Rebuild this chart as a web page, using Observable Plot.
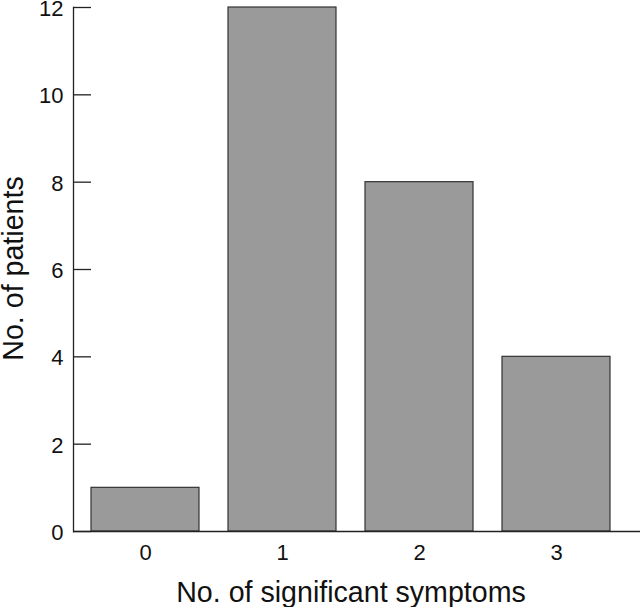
<!DOCTYPE html>
<html>
<head>
<meta charset="utf-8">
<script src="https://cdn.jsdelivr.net/npm/d3@7"></script>
<script src="https://cdn.jsdelivr.net/npm/@observablehq/plot@0.6"></script>
<style>
  html, body { margin: 0; padding: 0; background: #fff; }
  svg { display: block; }
</style>
</head>
<body>
<div id="chart"></div>
<script>
const categories = ["0", "1", "2", "3"];
const patients = [1, 12, 8, 4];
const yTicks = [0, 2, 4, 6, 8, 10, 12];
const xTitle = "No. of significant symptoms";
const yTitle = "No. of patients";

const data = categories.map((c, i) => ({cat: c, n: patients[i]}));

const W = 640, H = 607;
const mL = 73, mR = 0, mT = 7, mB = 76;
const frameW = W - mL - mR;
const font = "'Liberation Sans', Arial, Helvetica, sans-serif";

const chart = Plot.plot({
  width: W,
  height: H,
  marginLeft: mL,
  marginRight: mR,
  marginTop: mT,
  marginBottom: mB,
  style: {fontFamily: font, fontSize: "22px", color: "#111", background: "#fff"},
  x: {domain: categories, paddingInner: 0.2117, paddingOuter: 0.175, align: 0.375, axis: null},
  y: {domain: [0, 12], axis: null},
  marks: [
    Plot.barY(data, {x: "cat", y: "n", fill: "#9a9a9a", stroke: "#333", strokeWidth: 1.2}),
    Plot.ruleY([0], {stroke: "#222", strokeWidth: 1.3}),
    Plot.frame({anchor: "left", stroke: "#222", strokeWidth: 1.3}),
    Plot.tickY(yTicks, {y: d => d, insetRight: frameW - 18, stroke: "#222", strokeWidth: 1.3}),
    Plot.axisY({ticks: yTicks, tickSize: 0, tickPadding: 10, dy: 1.5, fontSize: 22, label: null, tickFormat: d => String(d), fill: "#111"}),
    Plot.axisX({tickSize: 0, tickPadding: 13, fontSize: 22, label: null, fill: "#111"}),
    Plot.text([xTitle], {text: d => d, frameAnchor: "bottom", textAnchor: "middle", lineAnchor: "middle", dx: -6, dy: 61, fontSize: 28.6, fill: "#111"}),
    Plot.text([yTitle], {text: d => d, frameAnchor: "left", textAnchor: "middle", lineAnchor: "middle", rotate: -90, dx: -60, dy: -1, fontSize: 28.6, fill: "#111"})
  ]
});

document.getElementById("chart").appendChild(chart);
</script>
</body>
</html>
